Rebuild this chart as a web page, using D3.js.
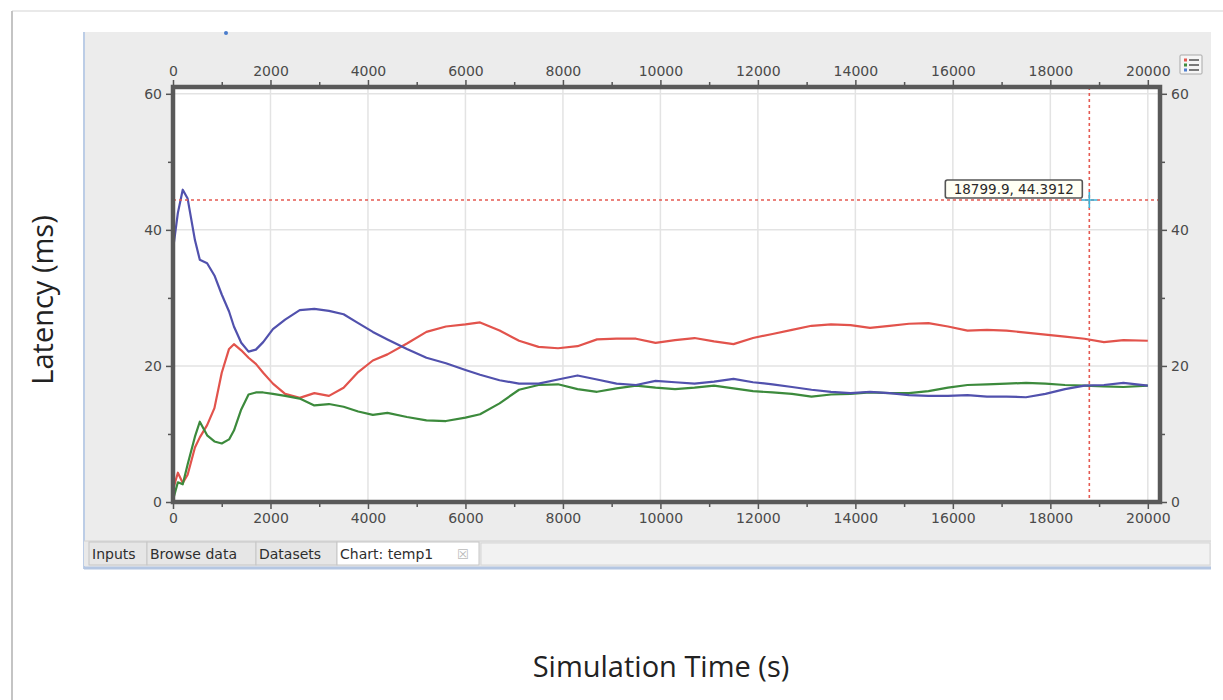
<!DOCTYPE html>
<html>
<head>
<meta charset="utf-8">
<script src="https://cdn.jsdelivr.net/npm/d3@7"></script>
<style>
  body { margin: 0; background: #fff; }
  svg { display: block; }
</style>
</head>
<body>
<script>
// values (simulation time in s, latency in ms)
var times = [0, 100, 200, 300, 450, 550, 700, 850, 1000, 1150, 1250, 1400, 1550, 1700, 1850, 2050,
  2300, 2600, 2900, 3200, 3500, 3800, 4100, 4400, 4800, 5200, 5600, 6000, 6300, 6700, 7100, 7500,
  7900, 8300, 8700, 9100, 9500, 9900, 10300, 10700, 11100, 11500, 11900, 12300, 12700, 13100, 13500,
  13900, 14300, 14700, 15100, 15500, 15900, 16300, 16700, 17100, 17500, 17900, 18300, 18700, 19100,
  19500, 20000];

var blueValues = [37.1, 42.5, 45.9, 44.6, 38.5, 35.6, 35.1, 33.3, 30.5, 28.0, 25.8, 23.4, 22.1, 22.4,
  23.5, 25.4, 26.8, 28.2, 28.4, 28.1, 27.6, 26.3, 25.0, 23.9, 22.5, 21.2, 20.4, 19.4, 18.7, 17.9, 17.4,
  17.4, 18.0, 18.6, 18.0, 17.4, 17.2, 17.8, 17.6, 17.4, 17.7, 18.1, 17.6, 17.3, 16.9, 16.5, 16.2, 16.0,
  16.2, 16.0, 15.7, 15.6, 15.6, 15.7, 15.5, 15.5, 15.4, 15.9, 16.6, 17.1, 17.2, 17.5, 17.1];

var redValues = [1.8, 4.3, 2.8, 4.0, 8.0, 9.5, 11.3, 13.8, 19.0, 22.5, 23.2, 22.3, 21.2, 20.3, 19.0,
  17.4, 15.9, 15.3, 16.0, 15.6, 16.8, 19.1, 20.8, 21.7, 23.3, 25.0, 25.8, 26.1, 26.4, 25.2, 23.7, 22.8,
  22.6, 22.9, 23.9, 24.0, 24.0, 23.4, 23.8, 24.1, 23.6, 23.2, 24.1, 24.7, 25.3, 25.9, 26.1, 26.0, 25.6,
  25.9, 26.2, 26.3, 25.8, 25.2, 25.3, 25.2, 24.9, 24.6, 24.3, 24.0, 23.5, 23.8, 23.7];

var greenValues = [0.3, 2.9, 2.6, 5.5, 9.6, 11.8, 9.8, 8.9, 8.6, 9.2, 10.5, 13.6, 15.8, 16.1, 16.1,
  15.9, 15.6, 15.2, 14.2, 14.4, 14.0, 13.3, 12.8, 13.1, 12.5, 12.0, 11.9, 12.4, 12.9, 14.5, 16.5, 17.2,
  17.3, 16.6, 16.2, 16.7, 17.1, 16.8, 16.6, 16.8, 17.1, 16.7, 16.3, 16.1, 15.9, 15.5, 15.8, 15.9, 16.1,
  16.0, 16.0, 16.3, 16.8, 17.2, 17.3, 17.4, 17.5, 17.4, 17.2, 17.1, 17.0, 16.9, 17.1];

var xTicks = [0, 2000, 4000, 6000, 8000, 10000, 12000, 14000, 16000, 18000, 20000];
var yTicks = [0, 20, 40, 60];
var tabLabels = ["Inputs", "Browse data", "Datasets", "Chart: temp1"];
var cursor = [18799.9, 44.3912];

var width = 1223, height = 700;
var plot = { left: 173, right: 1160, top: 87, bottom: 502 };
var tickFont = "DejaVu Sans, Verdana, sans-serif";

var svg = d3.select("body").append("svg")
  .attr("width", width)
  .attr("height", height);

// page frame
svg.append("line").attr("x1", 12).attr("x2", width).attr("y1", 11).attr("y2", 11)
  .attr("stroke", "#e2e2e2").attr("stroke-width", 1.5);
svg.append("line").attr("x1", 12).attr("x2", 12).attr("y1", 11).attr("y2", height)
  .attr("stroke", "#c4c4c4").attr("stroke-width", 2);

// grey application panel
svg.append("rect")
  .attr("x", 84).attr("y", 32).attr("width", 1127).attr("height", 537)
  .attr("fill", "#ececec");
svg.append("line").attr("x1", 84).attr("x2", 84).attr("y1", 32).attr("y2", 569)
  .attr("stroke", "#bccde6").attr("stroke-width", 2);
svg.append("line").attr("x1", 84).attr("x2", 1211).attr("y1", 568).attr("y2", 568)
  .attr("stroke", "#b4c6e2").attr("stroke-width", 3);
svg.append("circle").attr("cx", 226).attr("cy", 33).attr("r", 2).attr("fill", "#4a7ccc");

var x = d3.scaleLinear().domain([0, 20250]).range([plot.left, plot.right]);
var y = d3.scaleLinear().domain([0, 61]).range([plot.bottom, plot.top]);

svg.append("rect")
  .attr("x", plot.left).attr("y", plot.top)
  .attr("width", plot.right - plot.left).attr("height", plot.bottom - plot.top)
  .attr("fill", "#fff");

// grid
var grid = svg.append("g");
grid.selectAll("line.vg")
  .data(xTicks)
  .enter().append("line")
  .attr("x1", function(d) { return x(d); }).attr("x2", function(d) { return x(d); })
  .attr("y1", plot.top).attr("y2", plot.bottom)
  .attr("stroke", "#e3e3e3").attr("stroke-width", 1.5);
grid.selectAll("line.hg")
  .data(yTicks)
  .enter().append("line")
  .attr("x1", plot.left).attr("x2", plot.right)
  .attr("y1", function(d) { return y(d); }).attr("y2", function(d) { return y(d); })
  .attr("stroke", "#e3e3e3").attr("stroke-width", 1.5);

// series
svg.append("clipPath").attr("id", "clip")
  .append("rect")
  .attr("x", plot.left).attr("y", plot.top)
  .attr("width", plot.right - plot.left).attr("height", plot.bottom - plot.top);

var series = [
  { values: redValues, color: "#e2534c" },
  { values: greenValues, color: "#3c8a3c" },
  { values: blueValues, color: "#5151ad" }
];

var line = d3.line()
  .x(function(d) { return x(d[0]); })
  .y(function(d) { return y(d[1]); });

svg.append("g").attr("clip-path", "url(#clip)")
  .selectAll("path")
  .data(series)
  .enter().append("path")
  .attr("d", function(s) { return line(d3.zip(times, s.values)); })
  .attr("fill", "none")
  .attr("stroke", function(s) { return s.color; })
  .attr("stroke-width", 2.2)
  .attr("stroke-linejoin", "round");

// crosshair
var cx = x(cursor[0]), cy = y(cursor[1]);
svg.append("line")
  .attr("x1", plot.left).attr("x2", plot.right).attr("y1", cy).attr("y2", cy)
  .attr("stroke", "#e55a52").attr("stroke-width", 1.6).attr("stroke-dasharray", "3,3");
svg.append("line")
  .attr("x1", cx).attr("x2", cx).attr("y1", plot.top).attr("y2", plot.bottom)
  .attr("stroke", "#e55a52").attr("stroke-width", 1.6).attr("stroke-dasharray", "3,3");
svg.append("path")
  .attr("d", "M" + (cx - 8) + "," + cy + "H" + (cx + 8) + "M" + cx + "," + (cy - 8) + "V" + (cy + 8))
  .attr("stroke", "#3ab4da").attr("stroke-width", 1.6);

var tip = svg.append("g").attr("transform", "translate(" + (cx - 144) + "," + (cy - 20) + ")");
tip.append("rect")
  .attr("width", 137).attr("height", 18).attr("rx", 2)
  .attr("fill", "#fffff4").attr("stroke", "#555").attr("stroke-width", 1.6);
tip.append("text")
  .attr("x", 68.5).attr("y", 14)
  .attr("text-anchor", "middle")
  .attr("font-family", tickFont).attr("font-size", 13.5).attr("fill", "#2a2a2a")
  .text(cursor[0] + ", " + cursor[1]);

// axes
function styleAxis(g) {
  g.select(".domain").remove();
  g.selectAll(".tick line").attr("stroke", "#555").attr("stroke-width", 1.5);
  g.selectAll(".tick text")
    .attr("font-family", tickFont).attr("font-size", 14).attr("fill", "#4a4a4a");
}

var minorX = d3.range(1000, 20250, 2000);
var minorY = [10, 30, 50];

var axes = [
  { axis: d3.axisTop(x), tr: "translate(0," + (plot.top - 2) + ")", minor: d3.axisTop(x).tickValues(minorX) },
  { axis: d3.axisBottom(x), tr: "translate(0," + (plot.bottom + 2) + ")", minor: d3.axisBottom(x).tickValues(minorX) },
  { axis: d3.axisLeft(y), tr: "translate(" + (plot.left - 2) + ",0)", minor: d3.axisLeft(y).tickValues(minorY) },
  { axis: d3.axisRight(y), tr: "translate(" + (plot.right + 2) + ",0)", minor: d3.axisRight(y).tickValues(minorY) }
];

axes.forEach(function(a, i) {
  var vals = i < 2 ? xTicks : yTicks;
  svg.append("g").attr("transform", a.tr)
    .call(a.axis.tickValues(vals).tickSize(5).tickPadding(4).tickFormat(d3.format("d")))
    .call(styleAxis);
  svg.append("g").attr("transform", a.tr)
    .call(a.minor.tickSize(3).tickFormat(""))
    .call(styleAxis);
});

// thick plot frame
svg.append("rect")
  .attr("x", plot.left).attr("y", plot.top)
  .attr("width", plot.right - plot.left).attr("height", plot.bottom - plot.top)
  .attr("fill", "none").attr("stroke", "#595959").attr("stroke-width", 4.5);

// legend toggle icon
var icon = svg.append("g").attr("transform", "translate(1180,55)");
icon.append("rect").attr("width", 22).attr("height", 19).attr("rx", 1)
  .attr("fill", "#f6f6f6").attr("stroke", "#a8a8a8");
["#e4574f", "#3f8c3f", "#4f7fd0"].forEach(function(c, i) {
  icon.append("rect").attr("x", 4).attr("y", 3.5 + i * 5).attr("width", 3).attr("height", 3).attr("fill", c);
  icon.append("rect").attr("x", 9).attr("y", 4 + i * 5).attr("width", 10).attr("height", 2).attr("fill", "#7a7a7a");
});

// tabs
var tabWidths = [58, 109, 81, 142];
var tabX = 89;
svg.append("rect").attr("x", 84).attr("y", 541).attr("width", 1127).attr("height", 25)
  .attr("fill", "#e9e9e9");
svg.append("line").attr("x1", 84).attr("x2", 1211).attr("y1", 541).attr("y2", 541)
  .attr("stroke", "#d2d2d2");
tabLabels.forEach(function(t, i) {
  var active = i === tabLabels.length - 1;
  svg.append("rect")
    .attr("x", tabX).attr("y", 542).attr("width", tabWidths[i]).attr("height", 23)
    .attr("fill", active ? "#fff" : "#e6e6e6").attr("stroke", "#c6c6c6");
  svg.append("text")
    .attr("x", tabX + 3).attr("y", 559)
    .attr("font-family", tickFont).attr("font-size", 14).attr("fill", "#2e2e2e")
    .text(t);
  if (active) {
    svg.append("text")
      .attr("x", tabX + tabWidths[i] - 22).attr("y", 559)
      .attr("font-family", tickFont).attr("font-size", 13).attr("fill", "#bbb")
      .text("\u2612");
  }
  tabX += tabWidths[i];
});
svg.append("rect").attr("x", tabX + 2).attr("y", 543).attr("width", 1208 - tabX).attr("height", 22)
  .attr("fill", "#f2f2f2").attr("stroke", "#d6d6d6");

// axis titles
svg.append("text")
  .attr("transform", "translate(53,300) rotate(-90)")
  .attr("text-anchor", "middle")
  .attr("font-family", "Open Sans, sans-serif").attr("font-size", 29).attr("fill", "#222")
  .text("Latency (ms)");
svg.append("text")
  .attr("x", 661).attr("y", 677)
  .attr("text-anchor", "middle")
  .attr("font-family", "Open Sans, sans-serif").attr("font-size", 29).attr("fill", "#222")
  .text("Simulation Time (s)");
</script>
</body>
</html>
